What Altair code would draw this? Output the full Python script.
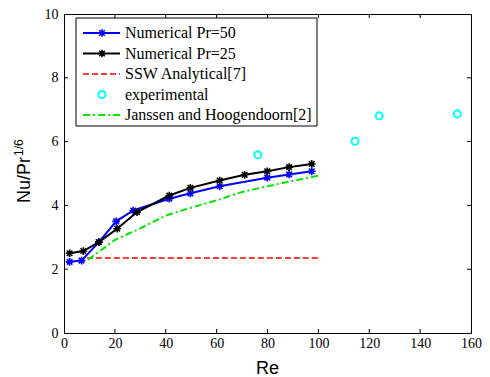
import altair as alt
import pandas as pd

# ---- data ----
re_pr50 = [2.2, 6.9, 13.7, 20.5, 27.2, 41.4, 49.7, 61.2, 79.9, 88.5, 97.4]
nu_pr50 = [2.23, 2.27, 2.85, 3.50, 3.84, 4.21, 4.38, 4.60, 4.87, 4.97, 5.07]

re_pr25 = [2.2, 7.6, 13.7, 20.9, 28.7, 41.4, 49.7, 61.2, 71.0, 79.9, 88.5, 97.4]
nu_pr25 = [2.50, 2.57, 2.85, 3.27, 3.79, 4.31, 4.55, 4.78, 4.96, 5.07, 5.20, 5.30]

re_ssw = [9.0, 100.0]
nu_ssw = [2.35, 2.35]

re_exp = [76.2, 114.4, 123.9, 154.6]
nu_exp = [5.59, 6.01, 6.81, 6.87]

re_jh = [9.5, 15, 20, 30, 40, 50, 60, 70, 80, 90, 100]
nu_jh = [2.30, 2.62, 2.92, 3.28, 3.68, 3.93, 4.16, 4.42, 4.60, 4.77, 4.93]

x_ticks = [0, 20, 40, 60, 80, 100, 120, 140, 160]
y_ticks = [0, 2, 4, 6, 8, 10]

legend_labels = ["Numerical Pr=50", "Numerical Pr=25", "SSW Analytical[7]",
                 "experimental", "Janssen and Hoogendoorn[2]"]

W, H = 407, 319
STAR = "M-1,0L1,0M0,-1L0,1M-0.72,-0.72L0.72,0.72M-0.72,0.72L0.72,-0.72"
SERIF = "Liberation Serif"
SANS = "Liberation Sans"

xs = alt.Scale(domain=[0, 160], nice=False, zero=False)
ys = alt.Scale(domain=[0, 10], nice=False, zero=False)

def df(x, y):
    return pd.DataFrame({"Re": x, "Nu": y})

X = alt.X("Re:Q", scale=xs, title=None,
          axis=alt.Axis(values=x_ticks, grid=False, tickSize=0, labelPadding=3,
                        labelFont=SERIF, labelFontSize=14, labelColor="black",
                        domainColor="black", labelFlush=False))
Y = alt.Y("Nu:Q", scale=ys, title=None,
          axis=alt.Axis(values=y_ticks, grid=False, tickSize=0, labelPadding=6,
                        labelFont=SERIF, labelFontSize=14, labelColor="black",
                        domainColor="black", labelFlush=False))

# base axis layer (invisible)
base = alt.Chart(df(re_pr50, nu_pr50)).mark_point(opacity=0).encode(x=X, y=Y)

Xn = alt.X("Re:Q", scale=xs)
Yn = alt.Y("Nu:Q", scale=ys)

blue_line = alt.Chart(df(re_pr50, nu_pr50)).mark_line(color="#0000ff", strokeWidth=2).encode(x=Xn, y=Yn)
blue_pts = alt.Chart(df(re_pr50, nu_pr50)).mark_point(
    shape=STAR, color="#0000ff", filled=False, strokeWidth=1.6, size=60, opacity=1).encode(x=Xn, y=Yn)
black_line = alt.Chart(df(re_pr25, nu_pr25)).mark_line(color="black", strokeWidth=2).encode(x=Xn, y=Yn)
black_pts = alt.Chart(df(re_pr25, nu_pr25)).mark_point(
    shape=STAR, color="black", filled=False, strokeWidth=1.6, size=60, opacity=1).encode(x=Xn, y=Yn)
ssw = alt.Chart(df(re_ssw, nu_ssw)).mark_line(
    color="#ff0000", strokeWidth=1.5, strokeDash=[6, 3]).encode(x=Xn, y=Yn)
jh = alt.Chart(df(re_jh, nu_jh)).mark_line(
    color="#00e600", strokeWidth=2, strokeDash=[7, 3, 2, 3]).encode(x=Xn, y=Yn)
exp = alt.Chart(df(re_exp, nu_exp)).mark_point(
    shape="circle", color="#00ffff", filled=False, strokeWidth=2, size=50, opacity=1).encode(x=Xn, y=Yn)

# inward ticks (MATLAB style)
xt = pd.DataFrame({"Re": x_ticks[1:-1]})
yt = pd.DataFrame({"Nu": y_ticks[1:-1]})
tk = dict(color="black", strokeWidth=1)
tick_b = alt.Chart(xt).mark_rule(**tk).encode(x=Xn, y=alt.value(H), y2=alt.value(H - 4))
tick_t = alt.Chart(xt).mark_rule(**tk).encode(x=Xn, y=alt.value(0), y2=alt.value(4))
tick_l = alt.Chart(yt).mark_rule(**tk).encode(y=Yn, x=alt.value(0), x2=alt.value(4))
tick_r = alt.Chart(yt).mark_rule(**tk).encode(y=Yn, x=alt.value(W), x2=alt.value(W - 4))

one = pd.DataFrame({"a": [0]})

# axis titles
x_title = alt.Chart(one).mark_text(text="Re", font=SANS, fontSize=18, baseline="alphabetic",
                                   align="center", color="black").encode(
    x=alt.value(W / 2), y=alt.value(H + 41))
y_title = alt.Chart(one).mark_text(text="Nu/Pr", font=SANS, fontSize=18, baseline="alphabetic",
                                   align="left", angle=270, color="black").encode(
    x=alt.value(-34), y=alt.value(189))
y_sup = alt.Chart(one).mark_text(text="1/6", font=SANS, fontSize=12, baseline="alphabetic",
                                 align="left", angle=270, color="black").encode(
    x=alt.value(-41), y=alt.value(142))

# legend
legend_box = alt.Chart(one).mark_rect(fill="white", stroke="black", strokeWidth=1).encode(
    x=alt.value(12), x2=alt.value(253), y=alt.value(4), y2=alt.value(112))
rows = [19, 39.5, 60, 80.5, 101]
lx1, lx2, lxm, ltx = 19, 56, 38, 61
leg = [legend_box]
leg.append(alt.Chart(one).mark_rule(color="#0000ff", strokeWidth=2).encode(
    x=alt.value(lx1), x2=alt.value(lx2), y=alt.value(rows[0])))
leg.append(alt.Chart(one).mark_point(shape=STAR, color="#0000ff", filled=False, strokeWidth=1.6,
                                     size=60, opacity=1).encode(x=alt.value(lxm), y=alt.value(rows[0])))
leg.append(alt.Chart(one).mark_rule(color="black", strokeWidth=2).encode(
    x=alt.value(lx1), x2=alt.value(lx2), y=alt.value(rows[1])))
leg.append(alt.Chart(one).mark_point(shape=STAR, color="black", filled=False, strokeWidth=1.6,
                                     size=60, opacity=1).encode(x=alt.value(lxm), y=alt.value(rows[1])))
leg.append(alt.Chart(one).mark_rule(color="#ff0000", strokeWidth=1.5, strokeDash=[6, 3]).encode(
    x=alt.value(lx1), x2=alt.value(lx2), y=alt.value(rows[2])))
leg.append(alt.Chart(one).mark_point(shape="circle", color="#00ffff", filled=False, strokeWidth=2,
                                     size=50, opacity=1).encode(x=alt.value(lxm), y=alt.value(rows[3])))
leg.append(alt.Chart(one).mark_rule(color="#00e600", strokeWidth=2, strokeDash=[7, 3, 2, 3]).encode(
    x=alt.value(lx1), x2=alt.value(lx2), y=alt.value(rows[4])))
for lab, ry in zip(legend_labels, rows):
    leg.append(alt.Chart(one).mark_text(text=lab, font=SERIF, fontSize=16, align="left",
                                        baseline="middle", color="black").encode(
        x=alt.value(ltx), y=alt.value(ry)))

chart = alt.layer(
    base, tick_b, tick_t, tick_l, tick_r,
    ssw, jh, blue_line, blue_pts, black_line, black_pts, exp,
    x_title, y_title, y_sup, *leg
).properties(
    width=W, height=H,
    autosize=alt.AutoSizeParams(type="none"),
    padding={"left": 56, "top": 6, "right": 11, "bottom": 44},
    background="white",
).configure_view(stroke="black", strokeWidth=1)

chart.save("out.html", embed_options={"renderer": "svg", "actions": False})
